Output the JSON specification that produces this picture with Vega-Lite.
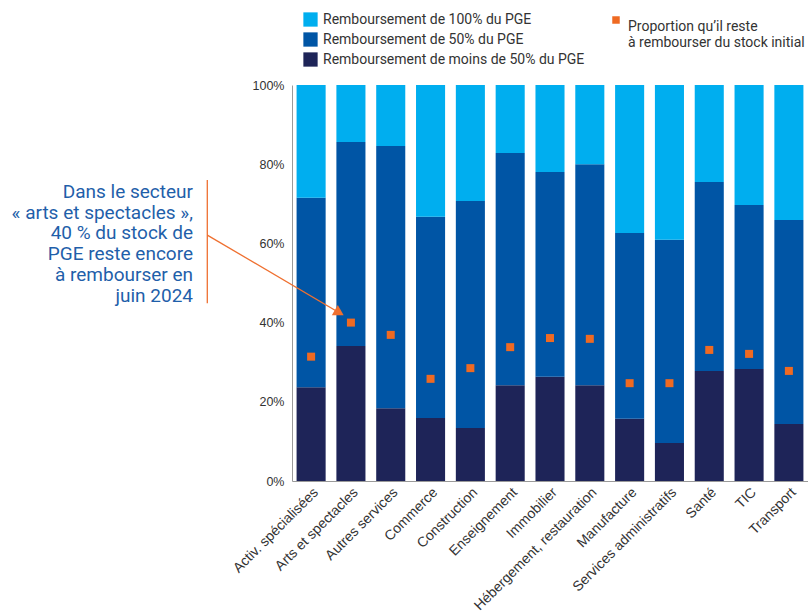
{
  "$schema": "https://vega.github.io/schema/vega-lite/v6.json",
  "width": 516,
  "height": 396,
  "autosize": {"type": "none"},
  "padding": {"left": 292, "top": 85, "right": 0, "bottom": 133},
  "background": "white",
  "config": {
    "view": {"stroke": null},
    "font": "Roboto",
    "axisY": {"tickCount": 5, "labelExpr": "datum.value + '%'", "grid": false, "ticks": false, "domainColor": "#9a9a9a", "labelFont": "Liberation Sans", "labelFontSize": 12.5, "labelColor": "#333333", "labelPadding": 8}
  },
  "datasets": {
    "parts": [
      {"secteur": "Activ. spécialisées", "serie": "Remboursement de moins de 50% du PGE", "valeur": 23.7},
      {"secteur": "Activ. spécialisées", "serie": "Remboursement de 50% du PGE", "valeur": 47.8},
      {"secteur": "Activ. spécialisées", "serie": "Remboursement de 100% du PGE", "valeur": 28.5},
      {"secteur": "Arts et spectacles", "serie": "Remboursement de moins de 50% du PGE", "valeur": 34.1},
      {"secteur": "Arts et spectacles", "serie": "Remboursement de 50% du PGE", "valeur": 51.5},
      {"secteur": "Arts et spectacles", "serie": "Remboursement de 100% du PGE", "valeur": 14.4},
      {"secteur": "Autres services", "serie": "Remboursement de moins de 50% du PGE", "valeur": 18.4},
      {"secteur": "Autres services", "serie": "Remboursement de 50% du PGE", "valeur": 66.2},
      {"secteur": "Autres services", "serie": "Remboursement de 100% du PGE", "valeur": 15.4},
      {"secteur": "Commerce", "serie": "Remboursement de moins de 50% du PGE", "valeur": 15.9},
      {"secteur": "Commerce", "serie": "Remboursement de 50% du PGE", "valeur": 50.8},
      {"secteur": "Commerce", "serie": "Remboursement de 100% du PGE", "valeur": 33.3},
      {"secteur": "Construction", "serie": "Remboursement de moins de 50% du PGE", "valeur": 13.4},
      {"secteur": "Construction", "serie": "Remboursement de 50% du PGE", "valeur": 57.3},
      {"secteur": "Construction", "serie": "Remboursement de 100% du PGE", "valeur": 29.3},
      {"secteur": "Enseignement", "serie": "Remboursement de moins de 50% du PGE", "valeur": 24.2},
      {"secteur": "Enseignement", "serie": "Remboursement de 50% du PGE", "valeur": 58.6},
      {"secteur": "Enseignement", "serie": "Remboursement de 100% du PGE", "valeur": 17.2},
      {"secteur": "Immobilier", "serie": "Remboursement de moins de 50% du PGE", "valeur": 26.3},
      {"secteur": "Immobilier", "serie": "Remboursement de 50% du PGE", "valeur": 51.7},
      {"secteur": "Immobilier", "serie": "Remboursement de 100% du PGE", "valeur": 22.0},
      {"secteur": "Hébergement, restauration", "serie": "Remboursement de moins de 50% du PGE", "valeur": 24.2},
      {"secteur": "Hébergement, restauration", "serie": "Remboursement de 50% du PGE", "valeur": 55.8},
      {"secteur": "Hébergement, restauration", "serie": "Remboursement de 100% du PGE", "valeur": 20.0},
      {"secteur": "Manufacture", "serie": "Remboursement de moins de 50% du PGE", "valeur": 15.7},
      {"secteur": "Manufacture", "serie": "Remboursement de 50% du PGE", "valeur": 46.9},
      {"secteur": "Manufacture", "serie": "Remboursement de 100% du PGE", "valeur": 37.4},
      {"secteur": "Services administratifs", "serie": "Remboursement de moins de 50% du PGE", "valeur": 9.6},
      {"secteur": "Services administratifs", "serie": "Remboursement de 50% du PGE", "valeur": 51.3},
      {"secteur": "Services administratifs", "serie": "Remboursement de 100% du PGE", "valeur": 39.1},
      {"secteur": "Santé", "serie": "Remboursement de moins de 50% du PGE", "valeur": 27.8},
      {"secteur": "Santé", "serie": "Remboursement de 50% du PGE", "valeur": 47.7},
      {"secteur": "Santé", "serie": "Remboursement de 100% du PGE", "valeur": 24.5},
      {"secteur": "TIC", "serie": "Remboursement de moins de 50% du PGE", "valeur": 28.3},
      {"secteur": "TIC", "serie": "Remboursement de 50% du PGE", "valeur": 41.4},
      {"secteur": "TIC", "serie": "Remboursement de 100% du PGE", "valeur": 30.3},
      {"secteur": "Transport", "serie": "Remboursement de moins de 50% du PGE", "valeur": 14.4},
      {"secteur": "Transport", "serie": "Remboursement de 50% du PGE", "valeur": 51.5},
      {"secteur": "Transport", "serie": "Remboursement de 100% du PGE", "valeur": 34.1}
    ],
    "reste": [
      {"secteur": "Activ. spécialisées", "reste": 31.4},
      {"secteur": "Arts et spectacles", "reste": 40.0},
      {"secteur": "Autres services", "reste": 36.9},
      {"secteur": "Commerce", "reste": 25.8},
      {"secteur": "Construction", "reste": 28.5},
      {"secteur": "Enseignement", "reste": 33.8},
      {"secteur": "Immobilier", "reste": 36.1},
      {"secteur": "Hébergement, restauration", "reste": 35.9},
      {"secteur": "Manufacture", "reste": 24.7},
      {"secteur": "Services administratifs", "reste": 24.7},
      {"secteur": "Santé", "reste": 33.1},
      {"secteur": "TIC", "reste": 32.1},
      {"secteur": "Transport", "reste": 27.8}
    ],
    "traits": [
      {"x": -2.134, "y": 76.0, "x2": -2.134, "y2": 44.9},
      {"x": -2.134, "y": 62.1, "x2": 1.19, "y2": 42.5}
    ],
    "pointe": [
      {"x": 1.19, "y": 42.5}
    ],
    "note": [
      {"x": -2.494, "y": 71.5, "texte": "Dans le secteur\n« arts et spectacles »,\n40 % du stock de\nPGE reste encore\nà rembourser en\njuin 2024"}
    ]
  },
  "layer": [
    {
      "layer": [
        {
          "data": {"name": "parts"},
          "mark": {"type": "bar"},
          "encoding": {
            "x": {
              "field": "secteur", "type": "nominal",
              "sort": ["Activ. spécialisées", "Arts et spectacles", "Autres services", "Commerce", "Construction", "Enseignement", "Immobilier", "Hébergement, restauration", "Manufacture", "Services administratifs", "Santé", "TIC", "Transport"],
              "scale": {"paddingInner": 0.27, "paddingOuter": 0.115},
              "axis": {"title": null, "labelAngle": -45, "ticks": false, "domainColor": "#9a9a9a", "labelFont": "Liberation Sans", "labelFontSize": 14, "labelColor": "#333333", "labelPadding": 4}
            },
            "y": {"field": "valeur", "type": "quantitative", "stack": "zero", "scale": {"domain": [0, 100], "nice": false}, "title": null},
            "color": {
              "field": "serie", "type": "nominal",
              "scale": {"domain": ["Remboursement de 100% du PGE", "Remboursement de 50% du PGE", "Remboursement de moins de 50% du PGE"], "range": ["#00AEEF", "#0055A5", "#1E2458"]},
              "legend": {"orient": "none", "legendX": 11, "legendY": -73, "title": null, "symbolType": "square", "symbolSize": 204, "symbolStrokeWidth": 0, "symbolOpacity": 1, "labelFontSize": 14, "labelColor": "#333333", "rowPadding": 5, "labelOffset": 5, "labelLimit": 400}
            },
            "order": {"field": "serie", "sort": "descending"}
          }
        },
        {
          "data": {"name": "reste"},
          "mark": {"type": "point", "filled": true, "size": 64, "color": "#EF6A22", "opacity": 1},
          "encoding": {
            "x": {"field": "secteur", "type": "nominal", "sort": ["Activ. spécialisées", "Arts et spectacles", "Autres services", "Commerce", "Construction", "Enseignement", "Immobilier", "Hébergement, restauration", "Manufacture", "Services administratifs", "Santé", "TIC", "Transport"]},
            "y": {"field": "reste", "type": "quantitative", "title": null},
            "shape": {
              "datum": "Proportion qu’il reste à rembourser du stock initial",
              "scale": {"range": ["square"]},
              "legend": {"orient": "none", "legendX": 317, "legendY": -72, "title": null, "symbolSize": 56, "symbolFillColor": "#EF6A22", "symbolStrokeWidth": 0, "symbolOpacity": 1, "labelFontSize": 14, "labelColor": "#333333", "labelOffset": 5, "labelLimit": 400, "labelBaseline": "top", "labelExpr": "['Proportion qu’il reste', 'à rembourser du stock initial']", "encode": {"labels": {"dy": {"value": -4}, "lineHeight": {"value": 19}}}}
            }
          }
        }
      ]
    },
    {
      "layer": [
        {
          "data": {"name": "traits"},
          "mark": {"type": "rule", "color": "#EF7030", "strokeWidth": 1.3},
          "encoding": {
            "x": {"field": "x", "type": "quantitative", "scale": {"domain": [0, 13], "nice": false, "zero": false}, "axis": null},
            "x2": {"field": "x2"},
            "y": {"field": "y", "type": "quantitative", "title": null},
            "y2": {"field": "y2"}
          }
        },
        {
          "data": {"name": "pointe"},
          "mark": {"type": "point", "shape": "triangle-right", "filled": true, "size": 140, "angle": 30.6, "color": "#EF7030", "opacity": 1},
          "encoding": {
            "x": {"field": "x", "type": "quantitative", "axis": null},
            "y": {"field": "y", "type": "quantitative", "title": null}
          }
        },
        {
          "data": {"name": "note"},
          "mark": {"type": "text", "align": "right", "baseline": "alphabetic", "fontSize": 19, "lineHeight": 20.8, "lineBreak": "\n", "color": "#1F5FAA"},
          "encoding": {
            "x": {"field": "x", "type": "quantitative", "axis": null},
            "y": {"field": "y", "type": "quantitative", "title": null},
            "text": {"field": "texte", "type": "nominal"}
          }
        }
      ]
    }
  ],
  "resolve": {"scale": {"x": "independent"}}
}
